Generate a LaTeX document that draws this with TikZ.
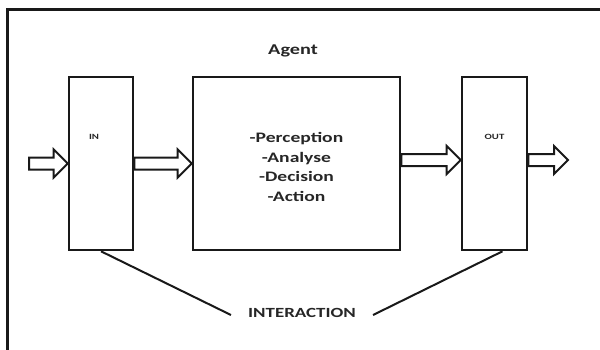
\documentclass[tikz,border=0pt]{standalone}
\usepackage{fontspec}
\setmainfont{Carlito}[FakeStretch=1.35]
\usetikzlibrary{calc}
\begin{document}
\begin{tikzpicture}[x=1pt,y=-1pt]
 \tikzset{box/.style={draw=black!90, line width=2.6pt, inner sep=0pt},
  txt/.style={text=black!85, font=\bfseries},
  flow/.style={draw=black!90, fill=white, line width=2pt, line join=miter,
   to path={let \p1=(\tikztostart), \p2=(\tikztotarget) in
    (\x1,\y1+6pt) -- (\x2-14pt,\y2+6pt) -- (\x2-14pt,\y2+14pt) -- (\p2)
    -- (\x2-14pt,\y2-14pt) -- (\x2-14pt,\y2-6pt) -- (\x1,\y1-6pt) -- cycle}}}
  \useasboundingbox (0,0) rectangle (600,349);
  % outer frame, only top and left visible
  \draw[line width=3pt, black!90] (7.5,360) -- (7.5,9.5) -- (610,9.5);
  \node[box, minimum width=64pt, minimum height=173pt] (In) at (101,163.5) {};
  \node[box, minimum width=207pt, minimum height=173pt,
   label={[txt, align=center, yshift=-3.5pt, font=\bfseries\fontsize{14.5}{19.7}\selectfont]center:-Perception\\-Analyse\\-Decision\\-Action}]
   (Main) at (296.5,163.5) {};
  \node[box, minimum width=65pt, minimum height=173pt] (Out) at (494.5,163.5) {};
  \node[txt, font=\bfseries\fontsize{8}{9}\selectfont] (InTxt) at (94,137) {IN};
  \node[txt, font=\bfseries\fontsize{8}{9}\selectfont] (OutTxt) at (494.5,137) {OUT};
  \node[txt, font=\bfseries\fontsize{15}{18}\selectfont] (Agent) at (293,51) {Agent};
  \node[txt, font=\bfseries\fontsize{14}{17}\selectfont, inner xsep=17pt] (Inter) at (302,313) {INTERACTION};
  \coordinate (Src) at (29,163.5);
  \coordinate (Dst) at (568,160);
  \draw[flow] (Src) to (In.west);
  \draw[flow] (In.east) to (Main.west);
  \draw[flow] ([yshift=3.5pt]Main.east) to ([yshift=3.5pt]Out.west);
  \draw[flow] ([yshift=3.5pt]Out.east) to (Dst);
  \draw[line width=2pt, black!90] (In.south) -- ([yshift=-2pt]Inter.west);
  \draw[line width=2pt, black!90] ([xshift=8pt]Out.south) -- ([yshift=-2pt]Inter.east);
\end{tikzpicture}
\end{document}
